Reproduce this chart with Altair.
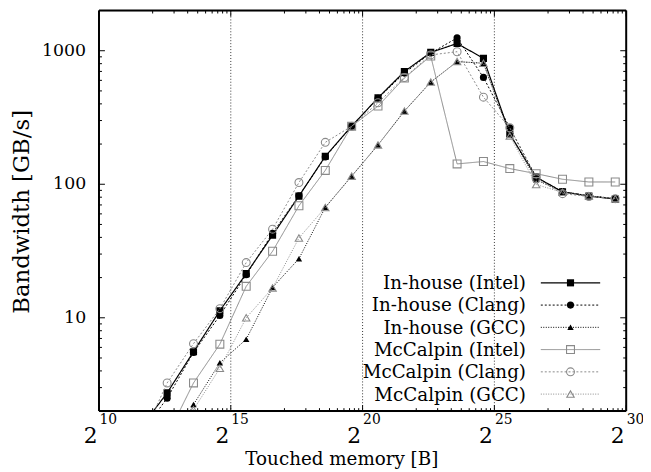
import altair as alt
import pandas as pd

# ---------------- data ----------------
# arrays of N = 2^k doubles, three arrays of 8 bytes -> touched bytes = 24 * 2^k
elem_exp = list(range(7, 26))
touched_bytes = [24 * 2 ** k for k in elem_exp]

series_names = ["In-house (Intel)", "In-house (Clang)", "In-house (GCC)",
                "McCalpin (Intel)", "McCalpin (Clang)", "McCalpin (GCC)"]

inhouse_intel = [1.5, 2.74, 5.57, 11.3, 21.4, 41.5, 81.5, 162, 272, 444, 698, 971, 1133, 877, 238, 113, 87.7, 81.5, 77.4]
inhouse_clang = [1.35, 2.5, 5.5, 10.4, 21, 43, 82, 160, 272, 440, 680, 960, 1248, 631, 265, 113, 88, 82, 78]
inhouse_gcc = [None, 1.0, 2.24, 4.6, 6.9, 16.9, 27.7, 67.1, 115, 197, 353, 582, 829, 806, 238, 108, 88, 82, 78]
mccalpin_intel = [None, 1.3, 3.25, 6.34, 17.2, 31.5, 69, 127, 272, 385, 624, 913, 142, 148, 131, 120, 109, 104, 104]
mccalpin_clang = [1.2, 3.25, 6.4, 11.7, 25.9, 46.1, 103, 206, 272, 408, 630, 930, 983, 449, 265, 110, 85, 81, 78]
mccalpin_gcc = [None, 0.9, 2.05, 4.19, 10, 16.7, 39.6, 67, 115, 197, 353, 582, 829, 806, 230, 99.5, 87, 82, 78]

all_values = [inhouse_intel, inhouse_clang, inhouse_gcc, mccalpin_intel, mccalpin_clang, mccalpin_gcc]

x_major = [2 ** 10, 2 ** 15, 2 ** 20, 2 ** 25, 2 ** 30]
x_major_exp = ["10", "15", "20", "25", "30"]
x_grid = [2 ** 15, 2 ** 20, 2 ** 25]
y_major = [10, 100, 1000]
y_major_labels = ["10", "100", "1000"]
x_title = "Touched memory [B]"
y_title = "Bandwidth [GB/s]"

# ---------------- styles ----------------
GRAY = "#8a8a8a"
styles = [
    dict(color="black", dash=[1, 0], width=1.2, shape="square", filled=True, size=52),
    dict(color="black", dash=[2, 2], width=1.0, shape="circle", filled=True, size=52),
    dict(color="black", dash=[1, 1.5], width=1.0, shape="triangle-up", filled=True, size=42),
    dict(color=GRAY, dash=[1, 0], width=1.0, shape="square", filled=False, size=64),
    dict(color=GRAY, dash=[2, 2], width=1.0, shape="circle", filled=False, size=64),
    dict(color=GRAY, dash=[1, 1.5], width=1.0, shape="triangle-up", filled=False, size=56),
]

W, H = 533, 405
FONT = "DejaVu Serif"

xscale = alt.Scale(type="log", base=2, domain=[2 ** 10, 2 ** 30], nice=False)
yscale = alt.Scale(type="log", domain=[2, 2000], nice=False)

def X(field):
    return alt.X(field, scale=xscale, axis=None)

def Y(field):
    return alt.Y(field, scale=yscale, axis=None)

layers = []

# grid lines
grid_df = pd.DataFrame({"v": x_grid})
layers.append(
    alt.Chart(grid_df).mark_rule(color="black", strokeWidth=0.8, strokeDash=[1, 2]).encode(
        x=X("v:Q"), y=alt.value(0), y2=alt.value(H))
)

# data series
for name, vals, st in zip(series_names, all_values, styles):
    df = pd.DataFrame({"bytes": touched_bytes, "bw": vals}).dropna()
    base = alt.Chart(df)
    layers.append(base.mark_line(color=st["color"], strokeDash=st["dash"],
                                 strokeWidth=st["width"], clip=True).encode(x=X("bytes:Q"), y=Y("bw:Q")))
    layers.append(base.mark_point(shape=st["shape"], filled=st["filled"], size=st["size"],
                                  color=st["color"], opacity=1, strokeWidth=1.1,
                                  clip=True).encode(x=X("bytes:Q"), y=Y("bw:Q")))

# frame
one = pd.DataFrame({"k": [0]})
frame = alt.Chart(one)
layers += [
    frame.mark_rule(color="black", strokeWidth=2).encode(x=alt.value(0), x2=alt.value(W), y=alt.value(0)),
    frame.mark_rule(color="black", strokeWidth=2).encode(x=alt.value(0), x2=alt.value(W), y=alt.value(H)),
    frame.mark_rule(color="black", strokeWidth=2).encode(x=alt.value(0), y=alt.value(0), y2=alt.value(H)),
    frame.mark_rule(color="black", strokeWidth=2).encode(x=alt.value(W), y=alt.value(0), y2=alt.value(H)),
]

# ticks (inward, on all four sides)
x_minor = []
for a, b in zip(x_major[:-1], x_major[1:]):
    x_minor += [a + j * (b - a) / 10 for j in range(1, 10)]
y_minor = []
for dec in [1, 10, 100, 1000]:
    for m in range(2, 10):
        v = m * dec
        if 2 < v < 2000:
            y_minor.append(v)

def xticks(vals, length):
    d = alt.Chart(pd.DataFrame({"v": vals}))
    return [
        d.mark_rule(color="black", strokeWidth=1).encode(x=X("v:Q"), y=alt.value(H), y2=alt.value(H - length)),
        d.mark_rule(color="black", strokeWidth=1).encode(x=X("v:Q"), y=alt.value(0), y2=alt.value(length)),
    ]

def yticks(vals, length):
    d = alt.Chart(pd.DataFrame({"v": vals}))
    return [
        d.mark_rule(color="black", strokeWidth=1).encode(y=Y("v:Q"), x=alt.value(0), x2=alt.value(length)),
        d.mark_rule(color="black", strokeWidth=1).encode(y=Y("v:Q"), x=alt.value(W), x2=alt.value(W - length)),
    ]

layers += xticks(x_major, 6) + xticks(x_minor, 3) + yticks(y_major, 6) + yticks(y_minor, 3)

# x tick labels: 2 with superscript exponent
lab_df = alt.Chart(pd.DataFrame({"v": x_major, "e": x_major_exp}))
layers.append(lab_df.mark_text(text="2", font=FONT, fontSize=22, color="black",
                               align="center", baseline="alphabetic", dx=-8.5).encode(
    x=X("v:Q"), y=alt.value(H + 32)))
layers.append(lab_df.mark_text(font=FONT, fontSize=14, color="black",
                               align="left", baseline="alphabetic", dx=0.5).encode(
    x=X("v:Q"), y=alt.value(H + 13), text="e:N"))

# y tick labels
ylab = alt.Chart(pd.DataFrame({"v": y_major, "t": y_major_labels}))
layers.append(ylab.mark_text(font=FONT, fontSize=17.5, color="black", align="right",
                             baseline="middle").encode(
    y=Y("v:Q"), x=alt.value(-13), text="t:N"))

# axis titles
layers.append(alt.Chart(pd.DataFrame({"t": [x_title]})).mark_text(
    font=FONT, fontSize=18.5, color="black", align="center", baseline="alphabetic").encode(
    x=alt.value(245.5), y=alt.value(H + 54.5), text="t:N"))
layers.append(alt.Chart(pd.DataFrame({"t": [y_title]})).mark_text(
    font=FONT, fontSize=23, color="black", align="center", baseline="middle", angle=270).encode(
    x=alt.value(-78), y=alt.value(H / 2 + 1), text="t:N"))

# legend (inside, bottom right)
for i, (name, st) in enumerate(zip(series_names, styles)):
    d = alt.Chart(pd.DataFrame({"label": [name]}))
    ys = 275.3 + i * 22.5
    yb = 281.5 + i * 22.6
    layers.append(d.mark_text(font=FONT, fontSize=18.5, color="black", align="right",
                              baseline="alphabetic").encode(
        x=alt.value(431.7), y=alt.value(yb), text="label:N"))
    layers.append(d.mark_rule(color=st["color"], strokeDash=st["dash"],
                              strokeWidth=st["width"]).encode(
        x=alt.value(446.7), x2=alt.value(506.7), y=alt.value(ys)))
    layers.append(d.mark_point(shape=st["shape"], filled=st["filled"], size=st["size"],
                               color=st["color"], opacity=1, strokeWidth=1.1).encode(
        x=alt.value(476.7), y=alt.value(ys)))

chart = alt.layer(*layers).properties(
    width=W, height=H,
    autosize=alt.AutoSizeParams(type="none"),
    padding={"left": 92, "top": 0, "right": 17, "bottom": 59},
).configure_view(stroke=None).configure(background="white")

chart.save("out.html", embed_options={"renderer": "svg", "actions": False})
